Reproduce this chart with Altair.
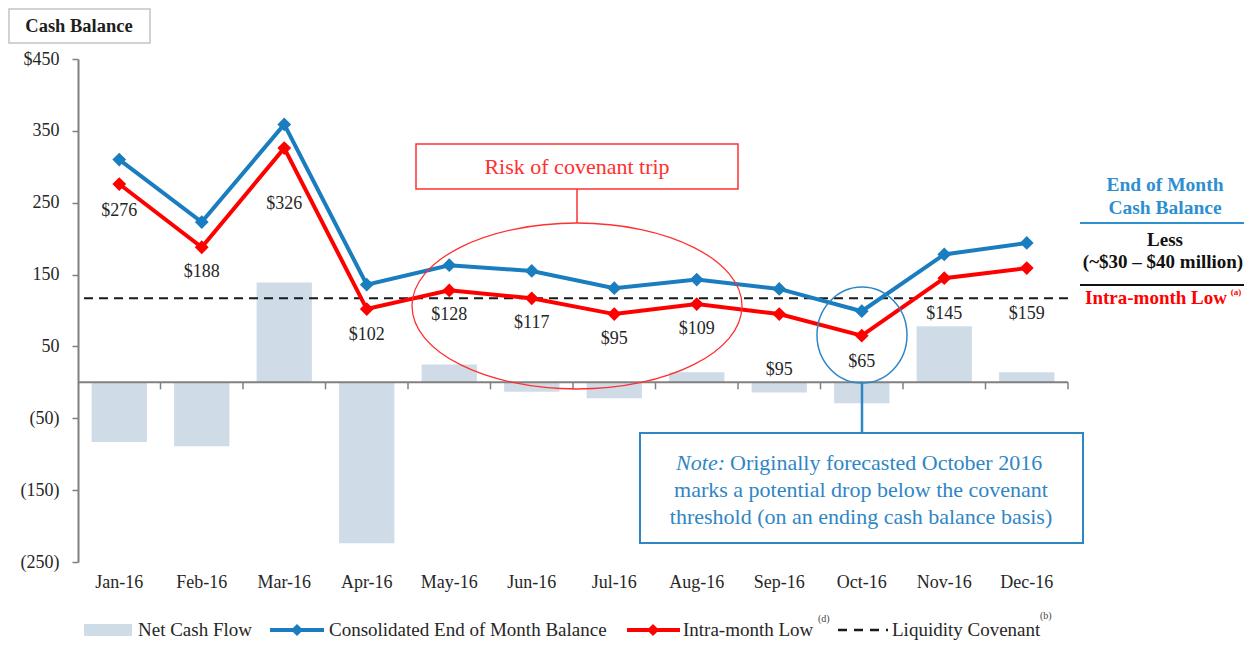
import altair as alt
import pandas as pd

# ---------------- data ----------------
months = ["Jan-16", "Feb-16", "Mar-16", "Apr-16", "May-16", "Jun-16",
          "Jul-16", "Aug-16", "Sep-16", "Oct-16", "Nov-16", "Dec-16"]
net_cash_flow = [-83, -89, 139, -224, 25, -13, -22, 14, -14, -29, 78, 14]
consolidated_eom = [310, 223, 359, 136, 163, 155, 131, 143, 130, 99, 178, 194]
intra_month_low = [276, 188, 326, 102, 128, 117, 95, 109, 95, 65, 145, 159]
covenant = [117]
y_ticks = [450, 350, 250, 150, 50, -50, -150, -250]

# style: pixel gap of each value label below its red marker
label_gap = [27, 25, 56, 26, 25, 25, 25, 25, 56, 26, 36, 46]

df = pd.DataFrame({
    "month": months,
    "ncf": net_cash_flow,
    "eom": consolidated_eom,
    "low": intra_month_low,
    "gap": label_gap,
})
df["label"] = ["$" + str(v) for v in intra_month_low]
cov_df = pd.DataFrame({"cov": covenant})

# ---------------- style ----------------
SERIF = "Liberation Serif"
BLUE = "#1a7dbf"
RED = "#ff0000"
BAR = "#cfdce7"
TXT = "#262626"
GRAY = "#808080"
W, H = 990, 503
Y_MIN, Y_MAX = -250, 450
PAD_L, PAD_T, PAD_R, PAD_B = 70, 51, 177, 79
PX0, PY0 = 8 + PAD_L, 8 + PAD_T  # page position of plot origin
ZERO_PX = H * Y_MAX / (Y_MAX - Y_MIN)  # pixel row of the zero line inside the plot

ysc = alt.Scale(domain=[Y_MIN, Y_MAX], nice=False, zero=False)
xsc = alt.Scale(paddingInner=0, paddingOuter=0)

yaxis = alt.Axis(
    values=y_ticks,
    labelExpr="datum.value == 450 ? '$450' : (datum.value < 0 ? '(' + (-datum.value) + ')' : '' + datum.value)",
    domainColor=GRAY, domainWidth=2, tickColor=GRAY, tickWidth=1.5, tickSize=6,
    labelPadding=13, grid=False, title=None, labelFont=SERIF, labelFontSize=18,
    labelColor=TXT,
)
x_label_axis = alt.Axis(
    orient="bottom", domain=False, ticks=False, labelPadding=11, labelAngle=0, labelFont=SERIF,
    labelFontSize=18, labelColor=TXT, title=None, grid=False,
)


def X(axis, band=None):
    if band is None:
        return alt.X("month:N", sort=months, scale=xsc, axis=axis)
    return alt.X("month:N", sort=months, scale=xsc, axis=axis, bandPosition=band)


bars = alt.Chart(df).mark_bar(color=BAR, width=alt.RelativeBandSize(0.67)).encode(
    x=X(x_label_axis), y=alt.Y("ncf:Q", scale=ysc, axis=yaxis)
)
# zero baseline (category axis line) and its ticks at category boundaries
zero_line = alt.Chart(cov_df).mark_rule(color=GRAY, strokeWidth=2).encode(
    y=alt.YDatum(0, scale=ysc, axis=yaxis)
)
zero_ticks = alt.Chart(df).mark_rule(color=GRAY, strokeWidth=1.5).encode(
    x=X(None, band=1), y=alt.value(ZERO_PX), y2=alt.value(ZERO_PX + 7),
)
cov_rule = alt.Chart(cov_df).mark_rule(color="#1a1a1a", strokeDash=[9, 6], strokeWidth=2).encode(
    y=alt.Y("cov:Q", scale=ysc, axis=yaxis)
)
blue_line = alt.Chart(df).mark_line(
    color=BLUE, strokeWidth=4,
    point=alt.OverlayMarkDef(shape="diamond", size=190, filled=True, color=BLUE),
).encode(x=X(None), y=alt.Y("eom:Q", scale=ysc, axis=yaxis))
red_line = alt.Chart(df).mark_line(
    color=RED, strokeWidth=4,
    point=alt.OverlayMarkDef(shape="diamond", size=190, filled=True, color=RED),
).encode(x=X(None), y=alt.Y("low:Q", scale=ysc, axis=yaxis))
labels = alt.Chart(df).transform_calculate(
    ly=f"datum.low - datum.gap * {Y_MAX - Y_MIN} / {H}"
).mark_text(font=SERIF, fontSize=18, color=TXT, baseline="middle").encode(
    x=X(None), y=alt.Y("ly:Q", scale=ysc, axis=yaxis), text="label:N",
)


# ---------------- annotation helpers (page coordinates) ----------------
def one():
    return alt.Data(values=[{}])


def a_text(txt, x, y, size=17, color=TXT, bold=False, italic=False, align="center", baseline="middle"):
    return alt.Chart(one()).mark_text(
        text=txt, font=SERIF, fontSize=size, color=color,
        fontWeight="bold" if bold else "normal",
        fontStyle="italic" if italic else "normal",
        align=align, baseline=baseline,
    ).encode(x=alt.value(x - PX0), y=alt.value(y - PY0))


def a_rect(x, y, x2, y2, stroke, sw=1.5, fill="white"):
    kw = dict(fill=fill, strokeWidth=sw)
    if stroke:
        kw["stroke"] = stroke
    return alt.Chart(one()).mark_rect(**kw).encode(
        x=alt.value(x - PX0), x2=alt.value(x2 - PX0), y=alt.value(y - PY0), y2=alt.value(y2 - PY0)
    )


def a_rule(x, y, x2, y2, color, sw=1.5, dash=None):
    kw = dict(color=color, strokeWidth=sw)
    if dash:
        kw["strokeDash"] = dash
    return alt.Chart(one()).mark_rule(**kw).encode(
        x=alt.value(x - PX0), x2=alt.value(x2 - PX0), y=alt.value(y - PY0), y2=alt.value(y2 - PY0)
    )


def a_ellipse(cx, cy, rx, ry, color, sw=1.3):
    r = ry / rx
    path = f"M -1 0 A 1 {r:.4f} 0 1 0 1 0 A 1 {r:.4f} 0 1 0 -1 0 Z"
    return alt.Chart(one()).mark_point(
        shape=path, size=(2 * rx) ** 2, filled=False, stroke=color, strokeWidth=sw, opacity=1
    ).encode(x=alt.value(cx - PX0), y=alt.value(cy - PY0))


def a_diamond(x, y, color):
    return alt.Chart(one()).mark_point(shape="diamond", size=150, filled=True, color=color, opacity=1).encode(
        x=alt.value(x - PX0), y=alt.value(y - PY0)
    )


NOTE_BLUE = "#2f86c4"
RISK_RED = "#ff3030"
LEG_Y = 630
ann = [
    # title box
    a_rect(9, 9, 150, 43, "#c4c4c4", 1.5),
    a_text("Cash Balance", 79, 26, size=18.5, color="#1e1e1e", bold=True),
    # risk annotation
    a_ellipse(577, 306, 165, 83, RISK_RED, 1.3),
    a_rule(577, 189, 577, 223, RISK_RED, 1.5),
    a_rect(416, 144, 738, 189, RISK_RED, 1.5),
    a_text("Risk of  covenant trip", 577, 167, size=22, color=RISK_RED),
    # October circle + note
    a_ellipse(862, 335, 45, 48, NOTE_BLUE, 1.5),
    a_rule(862, 383, 862, 433, NOTE_BLUE, 2.5),
    a_rect(640, 433, 1083, 543, NOTE_BLUE, 2),
    a_text("Note:", 725, 463, size=22, color=NOTE_BLUE, italic=True, align="right"),
    a_text("Originally forecasted October 2016", 730, 463, size=22, color=NOTE_BLUE, align="left"),
    a_text("marks a potential drop below the covenant", 861, 490, size=22, color=NOTE_BLUE),
    a_text("threshold (on an ending cash balance basis)", 861, 517, size=22, color=NOTE_BLUE),
    # right side explanation
    a_text("End of Month", 1165, 185, size=19.5, color="#2e8fd0", bold=True),
    a_text("Cash Balance", 1165, 208, size=19.5, color="#2e8fd0", bold=True),
    a_rule(1080, 223, 1244, 223, "#2e8fd0", 2),
    a_text("Less", 1165, 240, size=19, color="#111111", bold=True),
    a_text("(~$30 \u2013 $40 million)", 1163, 262, size=19, color="#111111", bold=True),
    a_rule(1080, 285, 1244, 285, "#111111", 2),
    a_text("Intra-month Low", 1156, 298, size=19, color=RED, bold=True),
    a_text("(a)", 1236, 292, size=9, color=RED, bold=True),
    # legend
    a_rect(84, LEG_Y - 6, 132, LEG_Y + 6, None, 0, fill=BAR),
    a_text("Net Cash Flow", 138, LEG_Y, size=19, align="left"),
    a_rule(270, LEG_Y, 324, LEG_Y, BLUE, 4),
    a_diamond(297, LEG_Y, BLUE),
    a_text("Consolidated End of Month Balance", 329, LEG_Y, size=19, align="left"),
    a_rule(627, LEG_Y, 680, LEG_Y, RED, 4),
    a_diamond(653, LEG_Y, RED),
    a_text("Intra-month Low", 683, LEG_Y, size=19, align="left"),
    a_text("(d)", 818, LEG_Y - 11, size=10, color="#444444", align="left"),
    a_rule(838, LEG_Y, 888, LEG_Y, "#1a1a1a", 2.5, dash=[9, 7]),
    a_text("Liquidity Covenant", 892, LEG_Y, size=19, align="left"),
    a_text("(b)", 1040, LEG_Y - 14, size=10, color="#444444", align="left"),
]

chart = alt.layer(bars, zero_line, zero_ticks, cov_rule, blue_line, red_line, labels, *ann).resolve_axis(
    x="independent"
).properties(
    width=W, height=H,
    padding={"left": PAD_L, "top": PAD_T, "right": PAD_R, "bottom": PAD_B},
    autosize=alt.AutoSizeParams(type="none"),
).configure(
    background="white", view=alt.ViewConfig(stroke="transparent", strokeWidth=0)
)

chart.save("out.html", embed_options={"renderer": "svg", "actions": False})
